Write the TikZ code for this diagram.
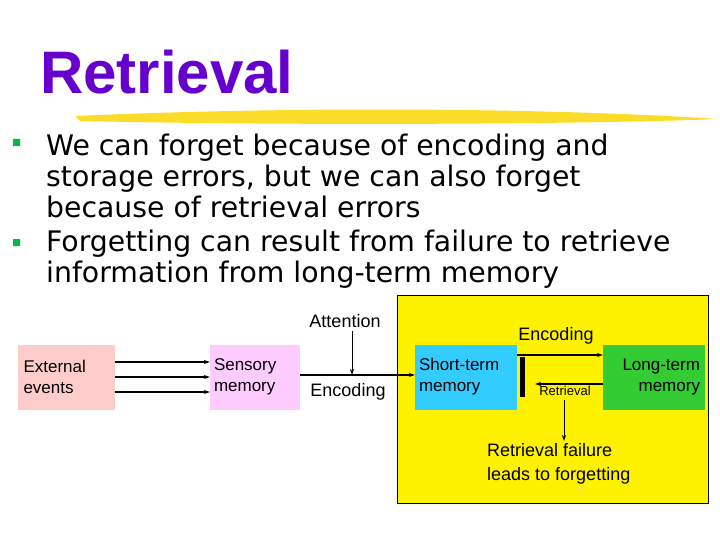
\documentclass[tikz,border=0pt]{standalone}
\usepackage{fontspec}
\setmainfont{Liberation Sans}
\newfontfamily\verd{DejaVu Sans}
\usetikzlibrary{arrows.meta}
\begin{document}
\begin{tikzpicture}[x=1pt,y=-1pt,
  bx/.style={minimum height=65pt,align=left,font=\fontsize{17}{21}\selectfont,inner sep=0pt},
  lbl/.style={font=\fontsize{18}{24}\selectfont},
  arr/.style={-{Stealth[length=6pt,width=4pt]},line width=1.4pt},
  bul/.style={anchor=west,font=\verd\fontsize{28.3}{31}\selectfont,align=left,inner sep=0pt}]
\useasboundingbox (0,0) rectangle (720,540);
\fill[white] (0,0) rectangle (720,540);
\node[anchor=west,text={rgb,255:red,102;green,0;blue,204},font=\bfseries\fontsize{60}{66}\selectfont,inner sep=0pt] (title) at (40,72) {Retrieval};
\fill[yellow!75!orange,opacity=0.85] (75,116) .. controls (300,106) and (550,108) .. (718,119) .. controls (600,124) and (300,126) .. (80,121) -- cycle;
\fill[green!45!teal] (13,139) rectangle (20,146) (13,239) rectangle (20,246);
\node[bul] (b1) at (46,176) {We can forget because of encoding and\\storage errors, but we can also forget\\because of retrieval errors};
\node[bul] (b2) at (46,259) {Forgetting can result from failure to retrieve\\information from long-term memory};
\fill[yellow] (397,295) rectangle (708,503);
\draw[line width=1pt] (397,295) rectangle (708,503);
\node[bx,fill={rgb,255:red,255;green,204;blue,204},minimum width=97pt,text width=85pt] (ext) at (66,377) {External\\events};
\node[bx,fill={rgb,255:red,255;green,204;blue,255},minimum width=90pt,text width=82pt] (sen) at (255,377) {Sensory\\memory};
\node[bx,fill={rgb,255:red,51;green,204;blue,255},minimum width=102pt,text width=94pt] (stm) at (466,377) {Short-term\\memory};
\node[bx,fill={rgb,255:red,51;green,204;blue,51},minimum width=102pt,text width=92pt,align=right] (ltm) at (654,377) {Long-term\\memory};
\foreach \dy in {-15,0,15} \draw[arr] ([yshift=-\dy]ext.east) -- ([yshift=-\dy]sen.west);
\draw[arr] ([yshift=2]sen.east) -- ([yshift=2]stm.west);
\node[lbl] (att) at (345,321) {Attention};
\coordinate (attend) at (352,375);
\draw[arr,line width=1pt] (352,331) -- (attend);
\node[lbl] (enc1) at (348,392) {Encoding};
\node[lbl] (enc2) at (556,336) {Encoding};
\draw[arr] ([yshift=22]stm.east) -- ([yshift=22]ltm.west);
\draw[arr] ([yshift=-7]ltm.west) -- (535,384);
\fill (520,357) rectangle (525,397);
\node[font=\fontsize{13}{15}\selectfont] (ret) at (565,391) {Retrieval};
\coordinate (fail) at (564,441);
\draw[arr,line width=1pt] (564,400) -- (fail);
\node[lbl,align=left,anchor=north west,inner sep=0pt] (rf) at (487,443) {Retrieval failure\\leads to forgetting};
\end{tikzpicture}
\end{document}
